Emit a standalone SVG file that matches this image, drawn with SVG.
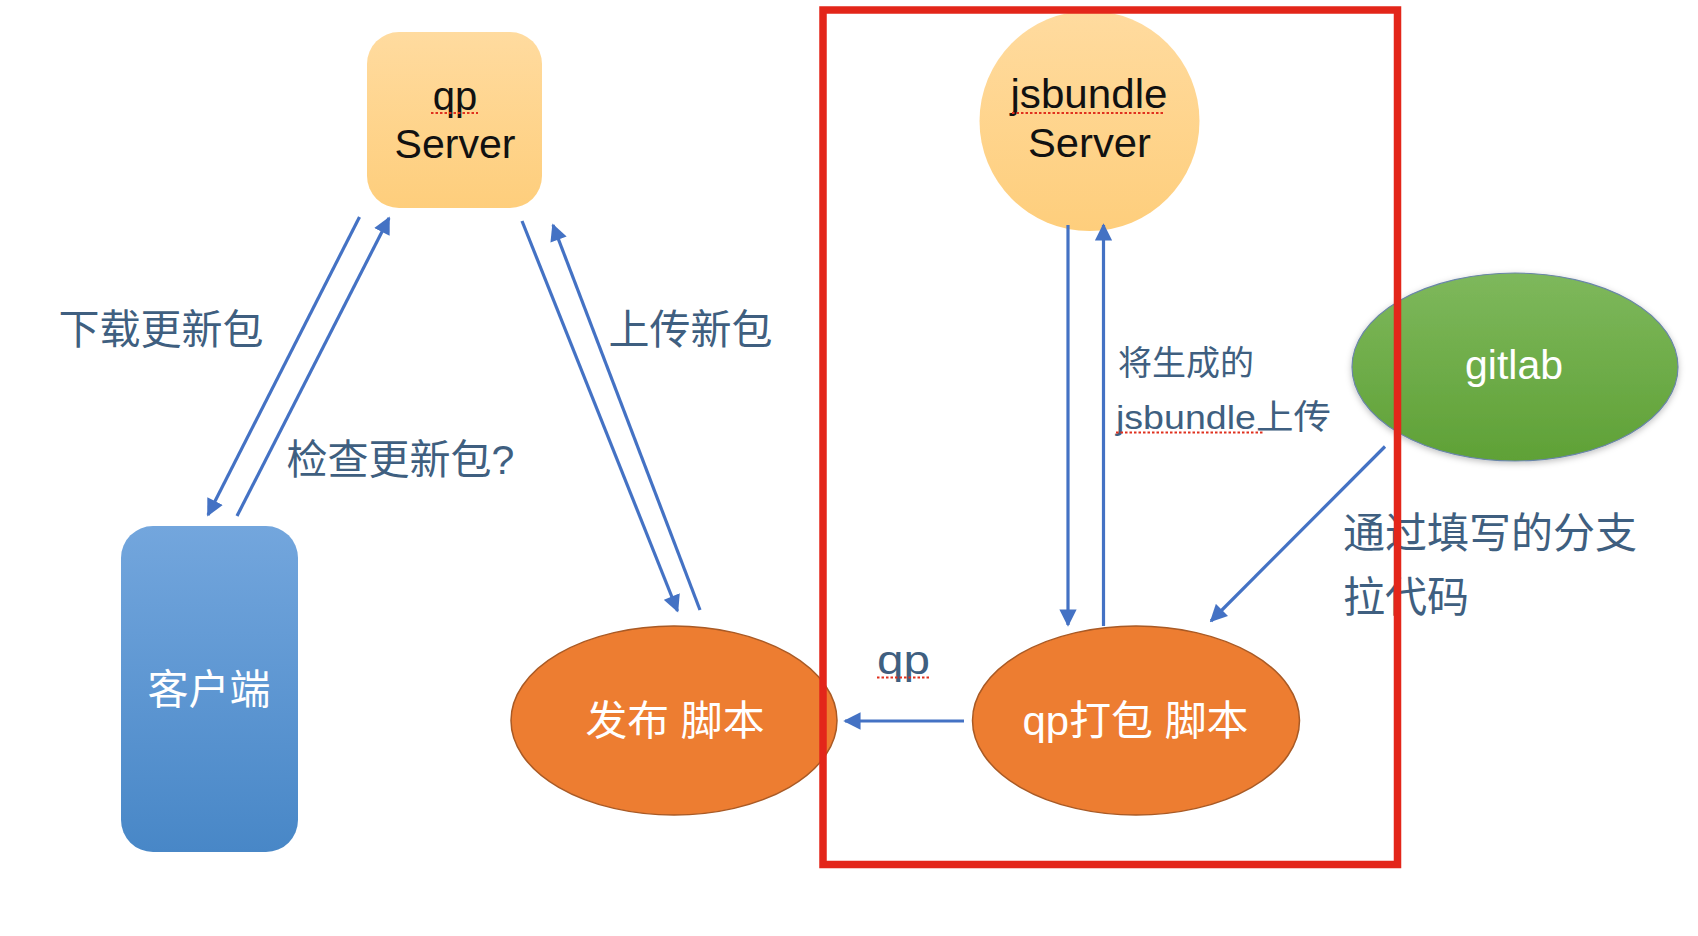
<svg xmlns="http://www.w3.org/2000/svg" width="1698" height="936" viewBox="0 0 1698 936">
<defs>
<linearGradient id="gOrangeLight" x1="0" y1="0" x2="0" y2="1">
<stop offset="0" stop-color="#FFDB9F"/><stop offset="1" stop-color="#FECE7C"/>
</linearGradient>
<linearGradient id="gBlue" x1="0" y1="0" x2="0" y2="1">
<stop offset="0" stop-color="#73A6DD"/><stop offset="1" stop-color="#4887C7"/>
</linearGradient>
<linearGradient id="gGreen" x1="0" y1="0" x2="0" y2="1">
<stop offset="0" stop-color="#7EB85C"/><stop offset="1" stop-color="#5FA136"/>
</linearGradient>
<filter id="shadow" x="-10%" y="-10%" width="120%" height="130%">
<feDropShadow dx="0" dy="2" stdDeviation="3" flood-color="#000" flood-opacity="0.25"/>
</filter>
<marker id="arrow" viewBox="0 0 10 10" refX="9" refY="5" markerWidth="5.6" markerHeight="5.4" orient="auto" markerUnits="strokeWidth">
<path d="M0,0 L10,5 L0,10 z" fill="#4472C4"/>
</marker>
</defs>
<style>
.conn{stroke:#4472C4;stroke-width:3.2;fill:none}
.lbl{font-family:"Liberation Sans","Noto Sans CJK SC",sans-serif;fill:#3F5F80}
.nodeTxt{font-family:"Liberation Sans","Noto Sans CJK SC",sans-serif;text-anchor:middle}
.dark{fill:#111}
.white{fill:#fff}
.orange{fill:#ED7D31;stroke:#A95A25;stroke-width:1.5}
.squig{stroke:#E0301E;stroke-width:2.2;stroke-dasharray:2.5 2;fill:none}
</style>

<g id="qp-server">
<rect x="367" y="32" width="175" height="176" rx="32" fill="url(#gOrangeLight)"/>
<text class="nodeTxt dark" x="455" y="110" font-size="40">qp</text>
<text class="nodeTxt dark" x="455" y="158" font-size="40" textLength="121" lengthAdjust="spacingAndGlyphs">Server</text>
<line class="squig" x1="431" y1="113" x2="478" y2="113"/>
</g>

<g id="client">
<rect x="121" y="526" width="177" height="326" rx="32" fill="url(#gBlue)"/>
<text class="nodeTxt white" x="209" y="704" font-size="41">客户端</text>
</g>

<g id="publish-script">
<ellipse class="orange" cx="674" cy="720.5" rx="163" ry="94.5"/>
<text class="nodeTxt white" x="675" y="735" font-size="41" textLength="179" lengthAdjust="spacingAndGlyphs">发布 脚本</text>
</g>

<g id="jsbundle-server">
<circle cx="1089.5" cy="121" r="110" fill="url(#gOrangeLight)"/>
<text class="nodeTxt dark" x="1089" y="108" font-size="40" textLength="157" lengthAdjust="spacingAndGlyphs">jsbundle</text>
<text class="nodeTxt dark" x="1089.5" y="157" font-size="40" textLength="123" lengthAdjust="spacingAndGlyphs">Server</text>
<line class="squig" x1="1012" y1="113" x2="1163" y2="113"/>
</g>

<g id="qp-pack-script">
<ellipse class="orange" cx="1136" cy="720.5" rx="163.5" ry="94.5"/>
<text class="nodeTxt white" x="1135.5" y="735" font-size="41" textLength="226" lengthAdjust="spacingAndGlyphs">qp打包 脚本</text>
</g>

<g id="gitlab">
<ellipse cx="1515" cy="367" rx="163" ry="94" fill="url(#gGreen)" stroke="#6A86A8" stroke-width="1.2" filter="url(#shadow)"/>
<text class="nodeTxt white" x="1514" y="379" font-size="40" textLength="98" lengthAdjust="spacingAndGlyphs">gitlab</text>
</g>

<g id="connectors">
<line class="conn" x1="359.5" y1="217" x2="208" y2="515" marker-end="url(#arrow)"/>
<line class="conn" x1="237" y1="516" x2="389" y2="218" marker-end="url(#arrow)"/>
<line class="conn" x1="522" y1="221" x2="677.5" y2="611" marker-end="url(#arrow)"/>
<line class="conn" x1="700" y1="610" x2="553" y2="225" marker-end="url(#arrow)"/>
<line class="conn" x1="1068" y1="225" x2="1068" y2="625" marker-end="url(#arrow)"/>
<line class="conn" x1="1103.5" y1="626" x2="1103.5" y2="225" marker-end="url(#arrow)"/>
<line class="conn" x1="964" y1="721" x2="845" y2="721" marker-end="url(#arrow)"/>
<line class="conn" x1="1385" y1="446.5" x2="1211" y2="621" marker-end="url(#arrow)"/>
</g>

<g id="labels">
<text class="lbl" x="58.5" y="344" font-size="41">下载更新包</text>
<text class="lbl" x="286.5" y="474" font-size="41">检查更新包?</text>
<text class="lbl" x="608.5" y="344" font-size="41">上传新包</text>
<text class="lbl" x="1118" y="375" font-size="34">将生成的</text>
<text class="lbl" x="1116" y="429" font-size="34" textLength="215" lengthAdjust="spacingAndGlyphs">jsbundle上传</text>
<line class="squig" x1="1116" y1="432.5" x2="1263" y2="432.5"/>
<text class="lbl" x="877" y="673.5" font-size="40" textLength="53" lengthAdjust="spacingAndGlyphs">qp</text>
<line class="squig" x1="877" y1="677.5" x2="930" y2="677.5"/>
<text class="lbl" x="1343" y="548" font-size="42">通过填写的分支</text>
<text class="lbl" x="1343" y="612" font-size="42">拉代码</text>
</g>

<g id="highlight-frame">
<rect x="823" y="10" width="574.5" height="854.5" fill="none" stroke="#E3261A" stroke-width="7.5"/>
</g>
</svg>
